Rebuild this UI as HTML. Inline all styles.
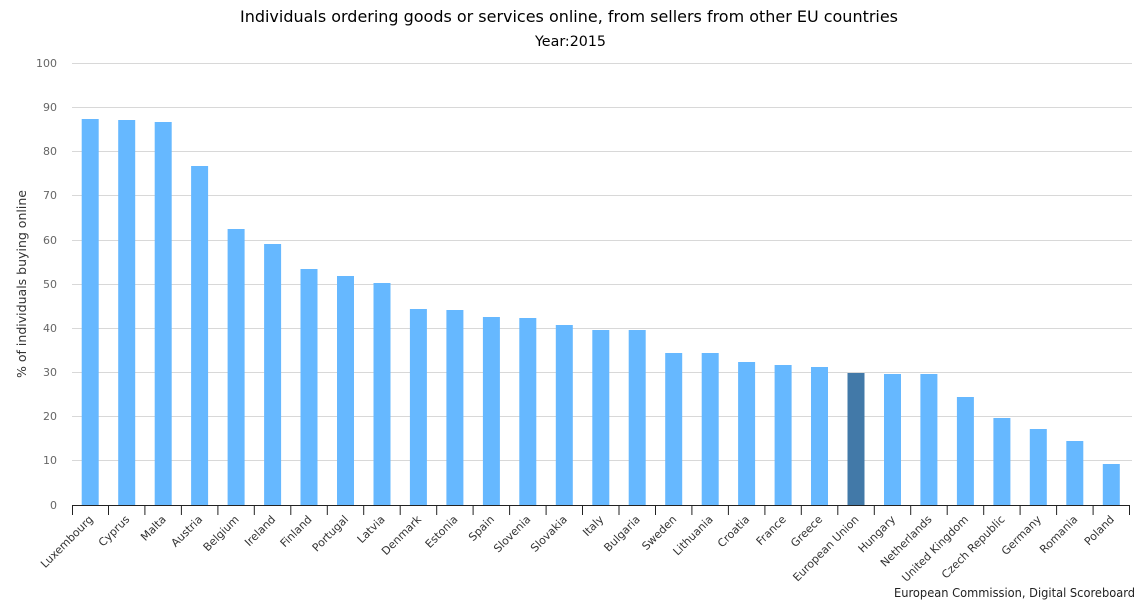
<!DOCTYPE html>
<html><head><meta charset="utf-8"><style>
html,body{margin:0;padding:0;background:#fff;}
svg{display:block;font-family:"DejaVu Sans","Liberation Sans",sans-serif;}
</style></head><body>
<svg width="1140" height="600" viewBox="0 0 1140 600" xmlns="http://www.w3.org/2000/svg">
<rect width="1140" height="600" fill="#fff"/>
<text x="569" y="22" text-anchor="middle" font-size="16" fill="#000" textLength="658" lengthAdjust="spacingAndGlyphs">Individuals ordering goods or services online, from sellers from other EU countries</text>
<text x="570.5" y="46" text-anchor="middle" font-size="14" fill="#000" textLength="71" lengthAdjust="spacingAndGlyphs">Year:2015</text>
<g stroke="#d8d8d8" stroke-width="1">
<line x1="72" x2="1132" y1="63.5" y2="63.5"/>
<line x1="72" x2="1132" y1="107.5" y2="107.5"/>
<line x1="72" x2="1132" y1="151.5" y2="151.5"/>
<line x1="72" x2="1132" y1="195.5" y2="195.5"/>
<line x1="72" x2="1132" y1="240.5" y2="240.5"/>
<line x1="72" x2="1132" y1="284.5" y2="284.5"/>
<line x1="72" x2="1132" y1="328.5" y2="328.5"/>
<line x1="72" x2="1132" y1="372.5" y2="372.5"/>
<line x1="72" x2="1132" y1="416.5" y2="416.5"/>
<line x1="72" x2="1132" y1="460.5" y2="460.5"/>
</g>
<g font-size="11" fill="#666" text-anchor="end">
<text x="57" y="67">100</text>
<text x="57" y="111">90</text>
<text x="57" y="155">80</text>
<text x="57" y="199">70</text>
<text x="57" y="244">60</text>
<text x="57" y="288">50</text>
<text x="57" y="332">40</text>
<text x="57" y="376">30</text>
<text x="57" y="420">20</text>
<text x="57" y="464">10</text>
<text x="57" y="509">0</text>
</g>
<text transform="translate(26,284) rotate(-90)" text-anchor="middle" font-size="12" fill="#333" textLength="188" lengthAdjust="spacingAndGlyphs">% of individuals buying online</text>
<g fill="#66b8ff">
<rect x="81.7" y="119" width="17" height="386"/>
<rect x="118.2" y="120" width="17" height="385"/>
<rect x="154.7" y="122" width="17" height="383"/>
<rect x="191.1" y="166" width="17" height="339"/>
<rect x="227.6" y="229" width="17" height="276"/>
<rect x="264.1" y="244" width="17" height="261"/>
<rect x="300.5" y="269" width="17" height="236"/>
<rect x="337.0" y="276" width="17" height="229"/>
<rect x="373.5" y="283" width="17" height="222"/>
<rect x="409.9" y="309" width="17" height="196"/>
<rect x="446.4" y="310" width="17" height="195"/>
<rect x="482.9" y="317" width="17" height="188"/>
<rect x="519.3" y="318" width="17" height="187"/>
<rect x="555.8" y="325" width="17" height="180"/>
<rect x="592.3" y="330" width="17" height="175"/>
<rect x="628.7" y="330" width="17" height="175"/>
<rect x="665.2" y="353" width="17" height="152"/>
<rect x="701.7" y="353" width="17" height="152"/>
<rect x="738.1" y="362" width="17" height="143"/>
<rect x="774.6" y="365" width="17" height="140"/>
<rect x="811.0" y="367" width="17" height="138"/>
<rect x="847.5" y="373" width="17" height="132" fill="#4279a8"/>
<rect x="884.0" y="374" width="17" height="131"/>
<rect x="920.4" y="374" width="17" height="131"/>
<rect x="956.9" y="397" width="17" height="108"/>
<rect x="993.4" y="418" width="17" height="87"/>
<rect x="1029.8" y="429" width="17" height="76"/>
<rect x="1066.3" y="441" width="17" height="64"/>
<rect x="1102.8" y="464" width="17" height="41"/>
</g>
<g stroke="#222" stroke-width="1">
<line x1="72" x2="1130" y1="505.5" y2="505.5"/>
<line x1="72.5" x2="72.5" y1="505" y2="515"/>
<line x1="108.5" x2="108.5" y1="505" y2="515"/>
<line x1="144.9" x2="144.9" y1="505" y2="515"/>
<line x1="181.4" x2="181.4" y1="505" y2="515"/>
<line x1="217.9" x2="217.9" y1="505" y2="515"/>
<line x1="254.3" x2="254.3" y1="505" y2="515"/>
<line x1="290.8" x2="290.8" y1="505" y2="515"/>
<line x1="327.3" x2="327.3" y1="505" y2="515"/>
<line x1="363.7" x2="363.7" y1="505" y2="515"/>
<line x1="400.2" x2="400.2" y1="505" y2="515"/>
<line x1="436.7" x2="436.7" y1="505" y2="515"/>
<line x1="473.1" x2="473.1" y1="505" y2="515"/>
<line x1="509.6" x2="509.6" y1="505" y2="515"/>
<line x1="546.1" x2="546.1" y1="505" y2="515"/>
<line x1="582.5" x2="582.5" y1="505" y2="515"/>
<line x1="619.0" x2="619.0" y1="505" y2="515"/>
<line x1="655.5" x2="655.5" y1="505" y2="515"/>
<line x1="691.9" x2="691.9" y1="505" y2="515"/>
<line x1="728.4" x2="728.4" y1="505" y2="515"/>
<line x1="764.9" x2="764.9" y1="505" y2="515"/>
<line x1="801.3" x2="801.3" y1="505" y2="515"/>
<line x1="837.8" x2="837.8" y1="505" y2="515"/>
<line x1="874.3" x2="874.3" y1="505" y2="515"/>
<line x1="910.7" x2="910.7" y1="505" y2="515"/>
<line x1="947.2" x2="947.2" y1="505" y2="515"/>
<line x1="983.7" x2="983.7" y1="505" y2="515"/>
<line x1="1020.1" x2="1020.1" y1="505" y2="515"/>
<line x1="1056.6" x2="1056.6" y1="505" y2="515"/>
<line x1="1093.1" x2="1093.1" y1="505" y2="515"/>
<line x1="1129.5" x2="1129.5" y1="505" y2="515"/>
</g>
<g font-size="11" fill="#333" text-anchor="end">
<text transform="translate(93.7,520) rotate(-45)">Luxembourg</text>
<text transform="translate(130.2,520) rotate(-45)">Cyprus</text>
<text transform="translate(166.7,520) rotate(-45)">Malta</text>
<text transform="translate(203.1,520) rotate(-45)">Austria</text>
<text transform="translate(239.6,520) rotate(-45)">Belgium</text>
<text transform="translate(276.1,520) rotate(-45)">Ireland</text>
<text transform="translate(312.5,520) rotate(-45)">Finland</text>
<text transform="translate(349.0,520) rotate(-45)">Portugal</text>
<text transform="translate(385.5,520) rotate(-45)">Latvia</text>
<text transform="translate(421.9,520) rotate(-45)">Denmark</text>
<text transform="translate(458.4,520) rotate(-45)">Estonia</text>
<text transform="translate(494.9,520) rotate(-45)">Spain</text>
<text transform="translate(531.3,520) rotate(-45)">Slovenia</text>
<text transform="translate(567.8,520) rotate(-45)">Slovakia</text>
<text transform="translate(604.2,520) rotate(-45)">Italy</text>
<text transform="translate(640.7,520) rotate(-45)">Bulgaria</text>
<text transform="translate(677.2,520) rotate(-45)">Sweden</text>
<text transform="translate(713.6,520) rotate(-45)">Lithuania</text>
<text transform="translate(750.1,520) rotate(-45)">Croatia</text>
<text transform="translate(786.6,520) rotate(-45)">France</text>
<text transform="translate(823.0,520) rotate(-45)">Greece</text>
<text transform="translate(859.5,520) rotate(-45)">European Union</text>
<text transform="translate(896.0,520) rotate(-45)">Hungary</text>
<text transform="translate(932.4,520) rotate(-45)">Netherlands</text>
<text transform="translate(968.9,520) rotate(-45)">United Kingdom</text>
<text transform="translate(1005.4,520) rotate(-45)">Czech Republic</text>
<text transform="translate(1041.8,520) rotate(-45)">Germany</text>
<text transform="translate(1078.3,520) rotate(-45)">Romania</text>
<text transform="translate(1114.8,520) rotate(-45)">Poland</text>
</g>
<text x="1135" y="597" text-anchor="end" font-size="12" fill="#222" textLength="241" lengthAdjust="spacingAndGlyphs">European Commission, Digital Scoreboard</text>
</svg>
</body></html>
